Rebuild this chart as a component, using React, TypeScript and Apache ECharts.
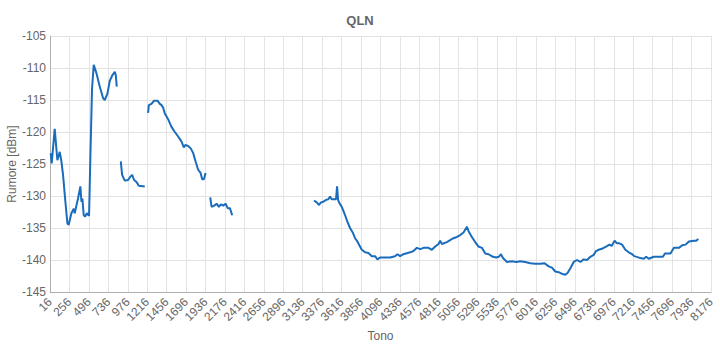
import React, { useEffect, useRef } from "react";
import * as echarts from "echarts";

// Tone offset: first category label of the x axis
const TONE_OFFSET = 16;
const TONE_STEP = 240;
const TONE_LAST = 8176;
const Y_MIN = -145;
const Y_MAX = -105;
const Y_STEP = 5;

// Segment 1
const tones1 = [25, 37, 74, 107, 136, 157, 177, 206, 231, 247, 280, 309, 321, 342, 362, 391, 404, 416, 432, 450, 470, 498, 515, 535, 556, 589, 630, 671, 692, 725, 754, 787, 816, 828, 840];
const rumore1 = [-123.3, -124.9, -119.5, -124.4, -123.1, -124.6, -126.7, -130.9, -134.3, -134.5, -132.7, -132, -132.7, -131.5, -130.4, -128.5, -130.9, -130.4, -133, -133.2, -132.7, -133.1, -123.6, -113.2, -109.5, -110.8, -112.9, -114.7, -115, -114, -112, -111.1, -110.6, -111.1, -112.9];

// Segment 2
const tones2 = [890, 906, 939, 980, 1001, 1030, 1054, 1084, 1112, 1186];
const rumore2 = [-124.6, -126.7, -127.6, -127.5, -127.1, -126.7, -127.5, -127.8, -128.4, -128.5];

// Segment 3
const tones3 = [1227, 1236, 1269, 1301, 1343, 1372, 1393, 1413, 1434, 1474, 1516, 1557, 1598, 1640, 1668, 1689, 1722, 1755, 1784, 1813, 1845, 1875, 1895, 1916, 1937];
const rumore3 = [-117, -115.8, -115.6, -115.1, -115.1, -115.6, -115.8, -116.2, -117.1, -118, -119.2, -120, -120.7, -121.5, -122.4, -122, -122.2, -122.6, -123.3, -124.6, -125.9, -126.4, -127.4, -127.4, -126.4];

// Segment 4
const tones4 = [1994, 2011, 2043, 2073, 2101, 2126, 2154, 2184, 2209, 2237, 2265];
const rumore4 = [-130.2, -131.7, -131.5, -131.2, -131.7, -131.3, -131.5, -131.2, -131.9, -131.9, -133];

// Segment 5
const tones5 = [3275, 3308, 3337, 3362, 3390, 3424, 3452, 3473, 3494, 3526, 3547, 3560, 3572, 3588, 3618, 3650, 3687, 3720, 3753, 3782, 3810, 3835, 3865, 3906, 3947, 3988, 4029, 4058, 4091, 4132, 4215, 4276, 4305, 4338, 4379, 4462, 4503, 4545, 4586, 4627, 4689, 4730, 4771, 4812, 4833, 4854, 4915, 4956, 4997, 5039, 5080, 5121, 5163, 5183, 5224, 5265, 5306, 5348, 5389, 5430, 5484, 5525, 5555, 5583, 5608, 5657, 5719, 5772, 5821, 5883, 5945, 6007, 6069, 6122, 6172, 6213, 6254, 6295, 6345, 6378, 6407, 6440, 6481, 6522, 6563, 6604, 6645, 6687, 6728, 6757, 6789, 6839, 6881, 6922, 6950, 6986, 7016, 7045, 7078, 7119, 7160, 7202, 7230, 7305, 7346, 7376, 7408, 7470, 7532, 7582, 7607, 7676, 7718, 7780, 7821, 7862, 7903, 7965, 7994, 8019];
const rumore5 = [-130.7, -131, -131.4, -131, -130.9, -130.6, -130.5, -130.1, -130.5, -130.5, -130.5, -128.5, -130.6, -131.1, -131.7, -132.7, -134, -135, -135.7, -136.6, -137.1, -137.7, -138.4, -138.8, -138.9, -139.4, -139.4, -139.9, -139.6, -139.6, -139.6, -139.4, -139.1, -139.4, -139.1, -138.8, -138.6, -138.1, -138.3, -138.1, -138.1, -138.4, -137.9, -137.5, -137, -137.5, -137.2, -136.9, -136.6, -136.4, -136.1, -135.7, -134.8, -135.5, -136.4, -137.2, -137.9, -138.1, -139, -139.1, -139.5, -139.6, -139.5, -139.1, -139.7, -140.3, -140.2, -140.3, -140.2, -140.3, -140.5, -140.6, -140.6, -140.5, -141, -141.2, -141.8, -141.9, -142.2, -142.3, -142, -141.3, -140.3, -140, -140.3, -139.9, -140, -139.5, -139.2, -138.6, -138.4, -138.2, -137.9, -137.6, -137.8, -137, -137.4, -137.4, -137.6, -138.4, -138.8, -139.1, -139.4, -139.7, -139.8, -139.5, -139.8, -139.5, -139.5, -139.5, -139, -139, -138.1, -138.1, -137.7, -137.6, -137.1, -137, -137, -136.7];

const segments: [number[], number[]][] = [
  [tones1, rumore1],
  [tones2, rumore2],
  [tones3, rumore3],
  [tones4, rumore4],
  [tones5, rumore5],
];

function buildData(): (number | null)[][] {
  const out: (number | null)[][] = [];
  segments.forEach(([t, v], si) => {
    if (si > 0) {
      const prev = segments[si - 1][0];
      const gapX = (prev[prev.length - 1] + t[0]) / 2 - TONE_OFFSET;
      out.push([gapX, null]);
    }
    t.forEach((tone, i) => out.push([tone - TONE_OFFSET, v[i]]));
  });
  return out;
}

const FONT = "Arial, 'Liberation Sans', Helvetica, sans-serif";
const TXT = "#666";

export default function App() {
  const ref = useRef<HTMLDivElement>(null);
  useEffect(() => {
    if (!ref.current) return;
    const chart = echarts.init(ref.current, undefined, { renderer: "svg" });
    chart.setOption({
      animation: false,
      backgroundColor: "#fff",
      textStyle: { fontFamily: FONT },
      title: {
        text: "QLN",
        left: "center",
        top: 9,
        textStyle: { fontSize: 13, fontWeight: "bold", color: TXT, fontFamily: FONT },
      },
      grid: { left: 50, right: 9, top: 36, bottom: 58, containLabel: false, outerBoundsMode: "none" },
      xAxis: {
        type: "value",
        min: 0,
        max: TONE_LAST - TONE_OFFSET,
        interval: TONE_STEP,
        name: "Tono",
        nameLocation: "middle",
        nameGap: 38,
        nameMoveOverlap: false,
        nameTextStyle: { fontSize: 12, color: TXT, fontFamily: FONT },
        axisLine: { show: true, lineStyle: { color: "#b0b0b0" } },
        axisTick: { show: false },
        axisLabel: {
          rotate: 45,
          fontSize: 12,
          color: TXT,
          margin: 8,
          fontFamily: FONT,
          showMinLabel: true,
          showMaxLabel: true,
          formatter: (v: number) => String(v + TONE_OFFSET),
        },
        splitLine: { show: true, lineStyle: { color: "#e3e3e3", width: 1 } },
      },
      yAxis: {
        type: "value",
        min: Y_MIN,
        max: Y_MAX,
        interval: Y_STEP,
        name: "Rumore [dBm]",
        nameLocation: "middle",
        nameGap: 32,
        nameMoveOverlap: false,
        nameTextStyle: { fontSize: 12, color: TXT, fontFamily: FONT },
        axisLine: { show: true, lineStyle: { color: "#b0b0b0" } },
        axisTick: { show: false },
        axisLabel: { fontSize: 12, color: TXT, margin: 4, fontFamily: FONT },
        splitLine: { show: true, lineStyle: { color: "#e3e3e3", width: 1 } },
      },
      series: [
        {
          type: "line",
          data: buildData(),
          showSymbol: false,
          connectNulls: false,
          lineStyle: { color: "#1a6cbc", width: 2 },
          itemStyle: { color: "#1a6cbc" },
        },
      ],
    });
    return () => chart.dispose();
  }, []);
  return (
    <div
      ref={ref}
      style={{ position: "fixed", left: 0, top: 0, width: 720, height: 350, background: "#fff" }}
    />
  );
}
